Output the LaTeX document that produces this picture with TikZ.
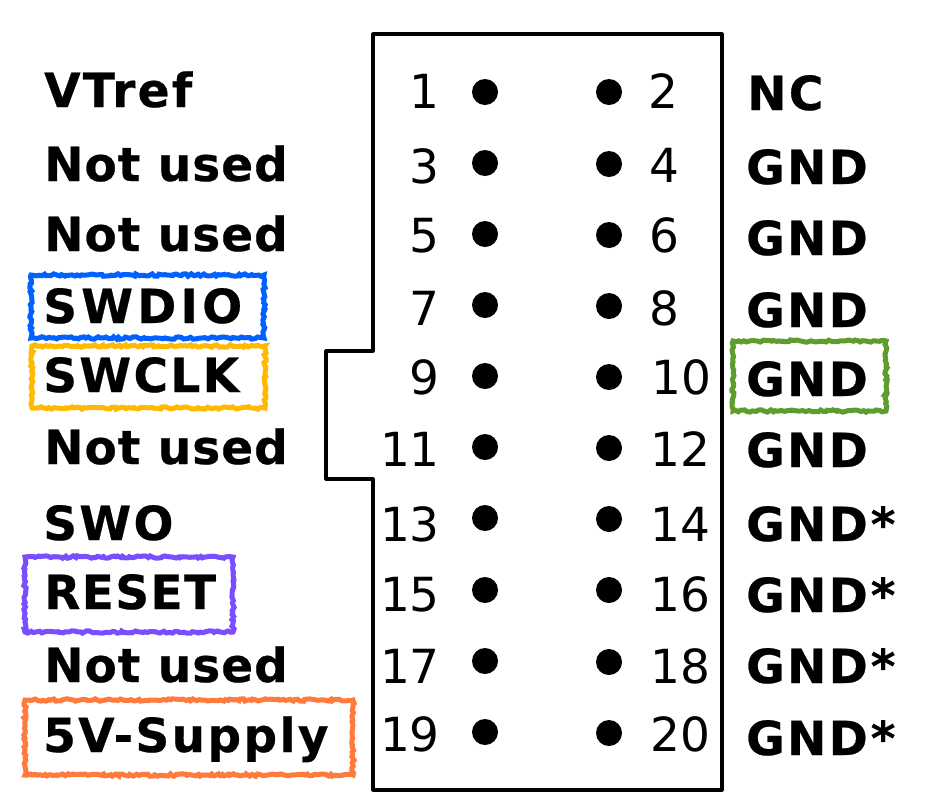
\documentclass[tikz,border=0pt]{standalone}
\usepackage{fontspec}
\setmainfont{DejaVu Sans}
\newfontfamily\lblfont[LetterSpace=2.2,FakeBold=0.5]{DejaVu Sans Bold}
\newfontfamily\lblwide[LetterSpace=5,FakeBold=0.5]{DejaVu Sans Bold}
\newfontfamily\lblwider[LetterSpace=9,FakeBold=0.5]{DejaVu Sans Bold}
\newfontfamily\lblmid[LetterSpace=3,FakeBold=0.5]{DejaVu Sans Bold}
\usetikzlibrary{decorations.pathmorphing}
\definecolor{hlblue}{HTML}{0061FE}
\definecolor{hlyellow}{HTML}{FFB900}
\definecolor{hlpurple}{HTML}{7A4DFF}
\definecolor{hlorange}{HTML}{FF7A3D}
\definecolor{hlgreen}{HTML}{5E9C2E}
\tikzset{
  lbl/.style={anchor=base west,inner sep=0pt,font=\fontsize{47}{50}\selectfont\lblfont},
  lblw/.style={anchor=base west,inner sep=0pt,font=\fontsize{47}{50}\selectfont\lblwide},
  lblx/.style={anchor=base west,inner sep=0pt,font=\fontsize{47}{50}\selectfont\lblwider},
  lblm/.style={anchor=base west,inner sep=0pt,font=\fontsize{47}{50}\selectfont\lblmid},
  numl/.style={anchor=base east,inner sep=0pt,font=\fontsize{47}{50}\selectfont},
  numr/.style={anchor=base west,inner sep=0pt,font=\fontsize{47}{50}\selectfont},
  pin/.style={circle,fill=black,inner sep=0pt,minimum size=26pt},
  hl/.style={draw=#1,line width=5pt,inner sep=0pt,decorate,
    decoration={random steps,segment length=2.5pt,amplitude=1.2pt}},
}
\begin{document}
\begin{tikzpicture}[x=1pt,y=-1pt]
\useasboundingbox (0,0) rectangle (931,807);
\fill[white] (0,0) rectangle (931,807);
\pgfmathsetseed{7}
\draw[line width=3.2pt,line join=round] (373,34) -- (722,34) -- (722,790) -- (373,790) -- (373,479) -- (326,479) -- (326,351) -- (373,351) -- cycle;
% left labels
\node[lblw] (l1) at (44,107) {VTref};
\node[lbl] (l3) at (44,181) {Not used};
\node[lbl] (l5) at (44,251) {Not used};
\node[lblx] (l7) at (43,323) {SWDIO};
\node[lblw] (l9) at (43,392) {SWCLK};
\node[lbl] (l11) at (44,464) {Not used};
\node[lblw] (l13) at (43,540) {SWO};
\node[lblm] (l15) at (44,609) {RESET};
\node[lbl] (l17) at (44,682) {Not used};
\node[lblw] (l19) at (43,752) {5V-Supply};
% right labels
\node[lblw] (r2) at (747,110) {NC};
\node[lblw] (r4) at (746,184) {GND};
\node[lblw] (r6) at (746,255) {GND};
\node[lblw] (r8) at (746,327) {GND};
\node[lblw] (r10) at (746,396) {GND};
\node[lblw] (r12) at (746,467) {GND};
\node[lblw] (r14) at (746,541) {GND\kern3pt*};
\node[lblw] (r16) at (746,612) {GND\kern3pt*};
\node[lblw] (r18) at (746,683) {GND\kern3pt*};
\node[lblw] (r20) at (746,755) {GND\kern3pt*};
% numbers
\node[numl] (n1) at (440,108) {1};
\node[numl] (n3) at (440,183) {3};
\node[numl] (n5) at (440,252) {5};
\node[numl] (n7) at (440,325) {7};
\node[numl] (n9) at (440,394) {9};
\node[numl] (n11) at (440,466) {11};
\node[numl] (n13) at (440,541) {13};
\node[numl] (n15) at (440,611) {15};
\node[numl] (n17) at (440,683) {17};
\node[numl] (n19) at (440,751) {19};
\node[numr] (n2) at (648,108) {2};
\node[numr] (n4) at (649,182) {4};
\node[numr] (n6) at (649,252) {6};
\node[numr] (n8) at (649,325) {8};
\node[numr] (n10) at (651,394) {10};
\node[numr] (n12) at (650,466) {12};
\node[numr] (n14) at (650,541) {14};
\node[numr] (n16) at (650,611) {16};
\node[numr] (n18) at (650,683) {18};
\node[numr] (n20) at (650,751) {20};
% pins
\foreach \n/\y in {1/92,3/163,5/234,7/305,9/376,11/447,13/518,15/590,17/661,19/732}
  \node[pin] (p\n) at (485,\y) {};
\foreach \n/\y in {2/92,4/164,6/235,8/306,10/377,12/448,14/519,16/590,18/662,20/733}
  \node[pin] (p\n) at (609,\y) {};
% highlight boxes
\node[hl=hlblue,minimum width=233pt,minimum height=63pt] (bswdio) at (147.5,306.5) {};
\node[hl=hlyellow,minimum width=233pt,minimum height=62pt] (bswclk) at (148.5,377) {};
\node[hl=hlgreen,minimum width=153pt,minimum height=70pt] (bgnd) at (809.5,376) {};
\node[hl=hlpurple,minimum width=208pt,minimum height=75pt] (breset) at (129,594.5) {};
\node[hl=hlorange,minimum width=328pt,minimum height=75pt] (bsupply) at (189,737.5) {};
\end{tikzpicture}
\end{document}
